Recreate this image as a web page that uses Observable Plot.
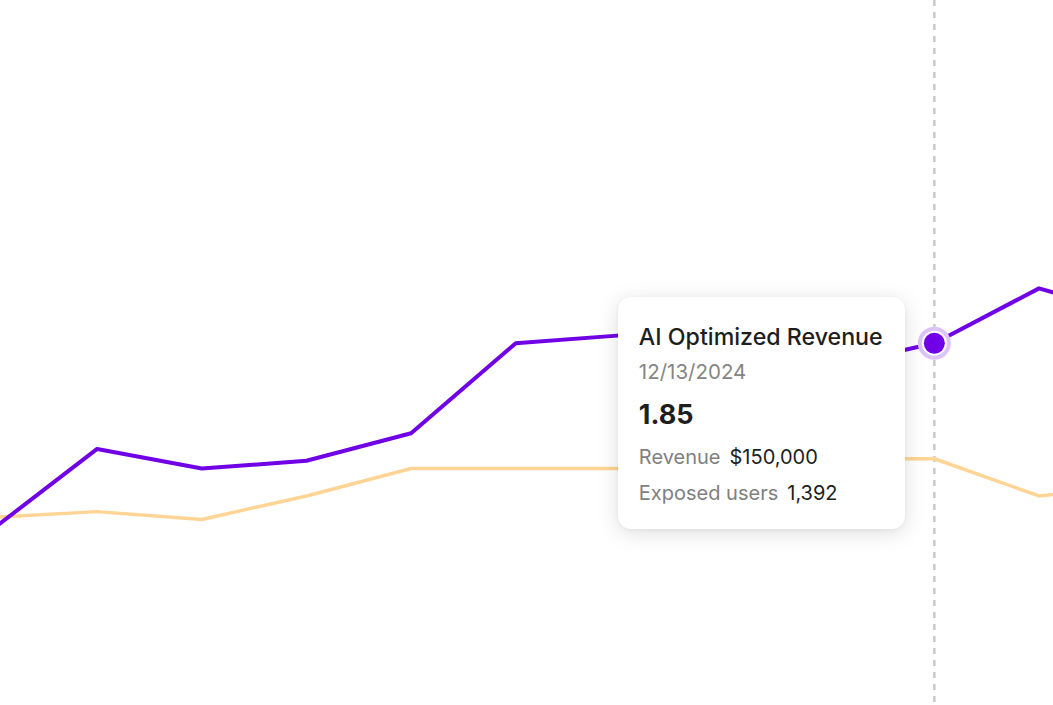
<!DOCTYPE html>
<html>
<head>
<meta charset="utf-8">
<script src="https://cdn.jsdelivr.net/npm/d3@7"></script>
<script src="https://cdn.jsdelivr.net/npm/@observablehq/plot@0.6"></script>
<style>
  html, body { margin: 0; padding: 0; background: #fff; overflow: hidden; }
  #wrap { position: relative; width: 1053px; height: 705px; }
  #wrap svg { display: block; }
  .tip {
    position: absolute;
    box-sizing: border-box;
    width: 287px;
    height: 232px;
    background: #fff;
    border-radius: 13px;
    box-shadow: 0 4px 22px rgba(0,0,0,0.13), 0 1px 4px rgba(0,0,0,0.05);
    font-family: Inter, "Noto Sans", sans-serif;
    color: #1e1e1e;
  }
  .tip .t { position: absolute; left: 21px; white-space: nowrap; line-height: normal; }
  .tip .title { font-size: 23.2px; font-weight: 500; top: 26px; }
  .tip .date { font-size: 20.5px; color: #858585; top: 62px; }
  .tip .big { font-size: 27px; font-weight: 700; top: 101px; }
  .tip .row { font-size: 20px; }
  .tip .row .k { color: #808080; margin-right: 9px; }
  .tip .row .v { color: #1e1e1e; }
  .tip .r1 { top: 148px; }
  .tip .r2 { top: 184px; }
</style>
</head>
<body>
<div id="wrap"></div>
<script>
// Weekly observations
const dates = ["2024-10-11","2024-10-18","2024-10-25","2024-11-01","2024-11-08","2024-11-15",
               "2024-11-22","2024-11-29","2024-12-06","2024-12-13","2024-12-20","2024-12-27"];
const aiOptimized = [0.90, 1.31, 1.21, 1.25, 1.39, 1.85, 1.89, 1.84, 1.73, 1.85, 2.13, 1.98];
const baseline    = [0.96, 0.99, 0.95, 1.07, 1.21, 1.21, 1.21, 1.23, 1.26, 1.26, 1.07, 1.13];

// Hovered point / tooltip contents
const hoverDate = "2024-12-13";
const tipTitle = "AI Optimized Revenue";
const tipDateLabel = "12/13/2024";
const tipValue = 1.85;
const tipRevenue = 150000;
const tipUsers = 1392;

const purple = "#7000e6";
const orange = "#ffd494";

const rows = dates.map((d, i) => ({date: new Date(d), ai: aiOptimized[i], base: baseline[i]}));
const hover = rows.find(r => +r.date === +new Date(hoverDate));

const plot = Plot.plot({
  width: 1053,
  height: 705,
  margin: 0,
  x: {type: "utc", domain: [new Date(dates[0]), new Date(dates[10])], range: [-8, 1038.5], axis: null},
  y: {domain: [0, 3.6], axis: null},
  marks: [
    Plot.ruleX([hover], {x: "date", stroke: "#c9c9c9", strokeWidth: 2.5, strokeDasharray: "6,6"}),
    Plot.line(rows, {x: "date", y: "base", stroke: orange, strokeWidth: 3.5}),
    Plot.line(rows, {x: "date", y: "ai", stroke: purple, strokeWidth: 4}),
    Plot.dot([hover], {x: "date", y: "ai", r: 14.5, fill: "#fff", stroke: "#dcc4fb", strokeWidth: 4}),
    Plot.dot([hover], {x: "date", y: "ai", r: 10.5, fill: purple})
  ]
});

const wrap = document.getElementById("wrap");
wrap.appendChild(plot);

const px = plot.scale("x").apply(hover.date);
const py = plot.scale("y").apply(tipValue);

const tip = document.createElement("div");
tip.className = "tip";
tip.style.left = (px - 316) + "px";
tip.style.top = (py - 46) + "px";
tip.innerHTML = `
  <div class="t title">${tipTitle}</div>
  <div class="t date">${tipDateLabel}</div>
  <div class="t big">${d3.format(".2f")(tipValue)}</div>
  <div class="t row r1"><span class="k">Revenue</span><span class="v">${d3.format("$,")(tipRevenue)}</span></div>
  <div class="t row r2"><span class="k">Exposed users</span><span class="v">${d3.format(",")(tipUsers)}</span></div>
`;
wrap.appendChild(tip);
</script>
</body>
</html>
